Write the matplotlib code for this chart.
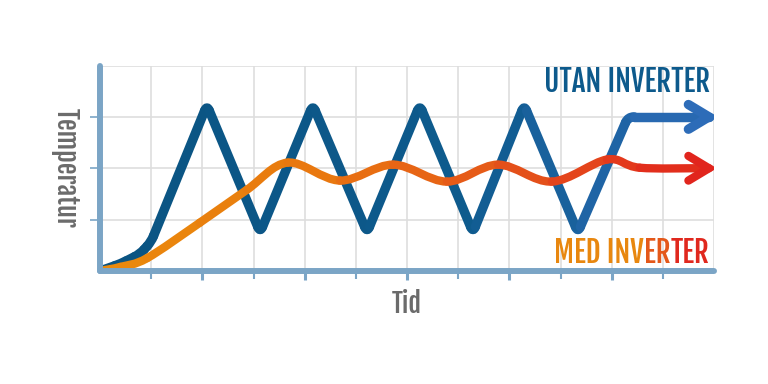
import numpy as np
import matplotlib
matplotlib.use("Agg")
import matplotlib.pyplot as plt
from matplotlib.colors import LinearSegmentedColormap
from matplotlib.path import Path
from matplotlib.patches import PathPatch

# data (x: time steps, y: temperature units)
blue_x = [0, 0.4, 0.78, 1.0, 2.09, 3.13, 4.16, 5.22, 6.25, 7.29, 8.29, 9.34, 10.32, 11.9]
blue_y = [0, 0.14, 0.33, 0.57, 3.23, 0.75, 3.23, 0.75, 3.23, 0.75, 3.23, 0.75, 3.0, 3.0]

orange_x = [0, 0.4, 0.92, 1.95, 2.87, 3.67, 4.69, 5.73, 6.78, 7.78, 8.83, 9.91, 10.55, 11.9]
orange_y = [0, 0.08, 0.25, 0.94, 1.58, 2.11, 1.76, 2.07, 1.74, 2.07, 1.74, 2.17, 2.01, 2.0]

label_utan = "UTAN INVERTER"
label_med = ["MED INV", "ER", "TER"]
xlabel = "Tid"
ylabel = "Temperatur"

FONT = ["Fjalla One", "Oswald", "DejaVu Sans"]
spine_col = "#7ba5c6"
grid_col = "#dedede"
text_gray = "#6b6b6b"

blue_cmap = LinearSegmentedColormap.from_list(
    "blue", [(0, "#0a5381"), (0.6, "#0e5b8e"), (1, "#2d6cb8")])
orange_cmap = LinearSegmentedColormap.from_list(
    "orange", [(0, "#ea8b0c"), (0.35, "#e9780f"), (0.65, "#e5561a"), (1, "#e1251d")])

fig = plt.figure(figsize=(7.68, 3.84), dpi=100)
ax = fig.add_axes([100 / 768, (384 - 271) / 384, 614 / 768, 205.5 / 384])
ax.set_xlim(0, 12)
ax.set_ylim(0, 4)


def add_piece(verts, codes, col, lw, z):
    ax.add_patch(PathPatch(Path(verts, codes), fill=False, edgecolor=col,
                           lw=lw, capstyle="round", joinstyle="round", zorder=z))


def arrow_head(ex, ey, col, lw, z):
    ax.plot([ex - 0.4, ex, ex - 0.4], [ey + 0.24, ey, ey - 0.24],
            color=col, lw=lw, solid_capstyle="round", solid_joinstyle="miter", zorder=z)


def smooth_line(xs, ys, cmap, lw, z):
    p = np.column_stack([xs, ys]).astype(float)
    t = np.zeros_like(p)
    t[1:-1] = (p[2:] - p[:-2]) / 2
    t[0] = p[1] - p[0]
    t[-1] = p[-1] - p[-2]
    for i in range(len(p) - 1):
        col = cmap((p[i, 0] + p[i + 1, 0]) / 24)
        add_piece([p[i], p[i] + t[i] / 3, p[i + 1] - t[i + 1] / 3, p[i + 1]],
                  [Path.MOVETO, Path.CURVE4, Path.CURVE4, Path.CURVE4], col, lw, z)
    arrow_head(xs[-1], ys[-1], cmap(1.0), lw, z)


def rounded_line(xs, ys, cmap, lw, z, rad=0.12):
    # straight segments with small rounded corners
    p = np.column_stack([xs, ys]).astype(float)
    n = len(p)
    seg_len = np.hypot(*(p[1:] - p[:-1]).T)
    starts = p.copy()
    ends = p.copy()
    for i in range(1, n - 1):
        r_in = min(rad, 0.45 * seg_len[i - 1])
        r_out = min(rad, 0.45 * seg_len[i])
        a = p[i] - r_in * (p[i] - p[i - 1]) / seg_len[i - 1]
        b = p[i] + r_out * (p[i + 1] - p[i]) / seg_len[i]
        ends[i] = a
        starts[i] = b
        add_piece([a, p[i], b], [Path.MOVETO, Path.CURVE3, Path.CURVE3],
                  cmap(p[i, 0] / 12), lw, z)
    for i in range(n - 1):
        col = cmap((p[i, 0] + p[i + 1, 0]) / 24)
        add_piece([starts[i], ends[i + 1]], [Path.MOVETO, Path.LINETO], col, lw, z)
    arrow_head(xs[-1], ys[-1], cmap(1.0), lw, z)


rounded_line(blue_x, blue_y, blue_cmap, 6.8, 3)
smooth_line(orange_x, orange_y, orange_cmap, 6.0, 4)

# grid
for gx in range(1, 13):
    ax.axvline(gx, color=grid_col, lw=1.2, zorder=0)
for gy in range(1, 5):
    ax.axhline(gy, color=grid_col, lw=1.2, zorder=0)

# spines
for s in ["top", "right"]:
    ax.spines[s].set_visible(False)
for s in ["left", "bottom"]:
    ax.spines[s].set_color(spine_col)
    ax.spines[s].set_linewidth(4.3)
    ax.spines[s].set_capstyle("round")
    ax.spines[s].set_zorder(5)

ax.set_xticks([2, 4, 6, 8, 10])
ax.set_xticks([1, 3, 5, 7, 9, 11], minor=True)
ax.set_yticks([1, 2, 3])
ax.tick_params(axis="x", which="major", length=6.5, width=2.2, color=spine_col)
ax.tick_params(axis="x", which="minor", length=5.5, width=1.5, color=spine_col)
ax.tick_params(axis="y", length=7, width=1.2, color=spine_col)
ax.set_xticklabels([])
ax.set_yticklabels([])

ax.set_xlabel(xlabel, family=FONT, fontsize=19, color=text_gray, va="top")
ax.xaxis.set_label_coords(0.5, -0.09)
ax.set_ylabel(ylabel, family=FONT, fontsize=19, color=text_gray,
              rotation=-90, va="center", ha="center")
ax.yaxis.set_label_coords(-0.055, 0.5)

ax.text(11.92, 3.48, label_utan, family=FONT, fontsize=21,
        color="#0d5a8c", ha="right", va="baseline", zorder=6)

# "MED INVERTER" fades from orange to red: pieces placed one after another
med_colors = ["#e8870f", "#e4581a", "#e0281e"]
med_props = dict(family=FONT, fontsize=21, va="baseline", ha="left", zorder=6)
inv = ax.transData.inverted()
probe = ax.text(0, 0.16, "".join(label_med), **med_props)
fig.canvas.draw()
width = probe.get_window_extent().width
probe.remove()
x_disp = ax.transData.transform((11.92, 0.16))[0] - width
for piece, col in zip(label_med, med_colors):
    xd = inv.transform((x_disp, 0))[0]
    t = ax.text(xd, 0.16, piece, color=col, **med_props)
    fig.canvas.draw()
    x_disp = t.get_window_extent().x1

fig.savefig("out.png", dpi=100, facecolor="white")
